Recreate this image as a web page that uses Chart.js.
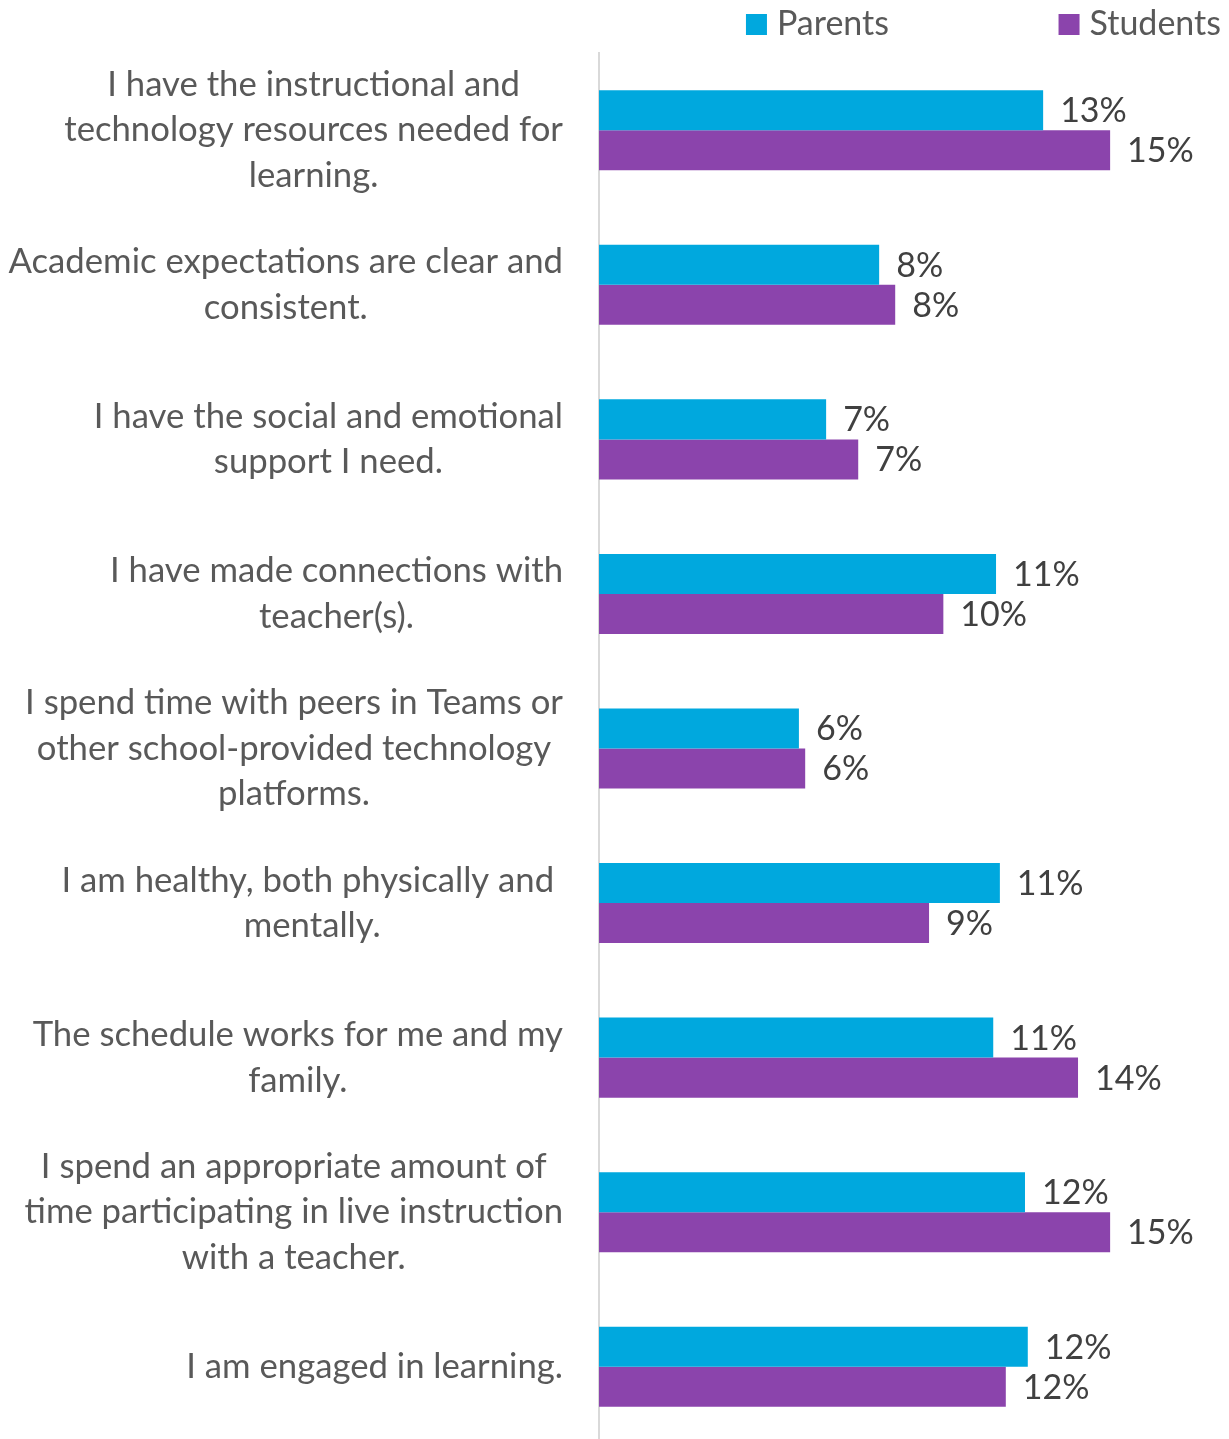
<!DOCTYPE html>
<html>
<head>
<meta charset="utf-8">
<script src="https://cdn.jsdelivr.net/npm/chart.js@4.4.1/dist/chart.umd.min.js"></script>
<style>
    html, body { margin: 0; padding: 0; background: #ffffff; }
    #wrap { width: 1229px; height: 1439px; overflow: hidden; }
    #chart { display: block; }
</style>
</head>
<body>
<div id="wrap"><canvas id="chart" width="1229" height="1444" style="width:1229px;height:1444px"></canvas></div>
<script>
"use strict";

/* category labels, one line per entry */
var categories = [
    ['I have the instructional and', 'technology resources needed for', 'learning.'],
    ['Academic expectations are clear and', 'consistent.'],
    ['I have the social and emotional', 'support I need.'],
    ['I have made connections with', 'teacher(s).'],
    ['I spend time with peers in Teams or', 'other school-provided technology', 'platforms.'],
    ['I am healthy, both physically and ', 'mentally.'],
    ['The schedule works for me and my', 'family.'],
    ['I spend an appropriate amount of', 'time participating in live instruction', 'with a teacher.'],
    ['I am engaged in learning.']
];

/* percent values */
var parents = [12.73, 8.03, 6.51, 11.38, 5.73, 11.49, 11.30, 12.21, 12.29];
var students = [14.65, 8.49, 7.43, 9.87, 5.91, 9.46, 13.73, 14.65, 11.66];

var seriesNames = ['Parents', 'Students'];
var seriesColors = ['#00a8de', '#8b44ac'];

var FONT = 'Lato, "Open Sans", sans-serif';
var FONT_SIZE = 34;
var CAT_FONT_SIZE = 34.7;

document.addEventListener("DOMContentLoaded", function () {
    var ctx = document.getElementById('chart').getContext('2d');

    /* labels, data labels and legend drawn on the canvas */
    var labelPlugin = {
        id: 'labelPlugin',
        afterDraw: function (chart) {
            var c = chart.ctx;
            var yScale = chart.scales.y;
            c.save();
            c.textBaseline = 'middle';

            /* category labels: block right aligned, lines centred */
            c.font = CAT_FONT_SIZE + 'px ' + FONT;
            c.fillStyle = '#595959';
            c.textAlign = 'center';
            categories.forEach(function (lines, i) {
                var w = 0;
                lines.forEach(function (l) { w = Math.max(w, c.measureText(l).width); });
                var cx = 563 - w / 2;
                var cy = yScale.getPixelForTick(i);
                var lh = 45.5;
                lines.forEach(function (l, k) {
                    c.fillText(l, cx, cy + (k - (lines.length - 1) / 2) * lh);
                });
            });

            /* value labels */
            c.font = FONT_SIZE + 'px ' + FONT;
            c.fillStyle = '#404040';
            c.textAlign = 'left';
            chart.data.datasets.forEach(function (ds, d) {
                var meta = chart.getDatasetMeta(d);
                meta.data.forEach(function (bar, i) {
                    c.fillText(Math.round(ds.data[i]) + '%', bar.x + 17, bar.y + 1);
                });
            });

            /* legend */
            var ends = [889, 1221];
            chart.data.datasets.forEach(function (ds, d) {
                var tw = c.measureText(ds.label).width;
                var tx = ends[d] - tw;
                c.fillStyle = ds.backgroundColor;
                c.fillRect(tx - 31, 14, 21, 21);
                c.fillStyle = '#595959';
                c.fillText(ds.label, tx, 24);
            });
            c.restore();
        }
    };

    var config = {
        type: 'bar',
        data: {
            labels: categories,
            datasets: [{
                label: seriesNames[0],
                data: parents,
                backgroundColor: seriesColors[0],
                borderWidth: 0,
                categoryPercentage: 0.518,
                barPercentage: 1.0
            }, {
                label: seriesNames[1],
                data: students,
                backgroundColor: seriesColors[1],
                borderWidth: 0,
                categoryPercentage: 0.518,
                barPercentage: 1.0
            }]
        },
        options: {
            indexAxis: 'y',
            responsive: false,
            animation: false,
            maintainAspectRatio: false,
            layout: {
                padding: { top: 53, right: 2, bottom: 0, left: 0 }
            },
            plugins: {
                legend: { display: false },
                tooltip: { enabled: false }
            },
            scales: {
                x: {
                    display: false,
                    min: 0,
                    max: 18
                },
                y: {
                    grid: { display: false, drawTicks: false },
                    border: { display: true, color: '#d9d9d9', width: 2 },
                    ticks: { display: false },
                    afterFit: function (scale) {
                        scale.width = 599;
                    }
                }
            }
        },
        plugins: [labelPlugin]
    };

    new Chart(ctx, config);
});
</script>
</body>
</html>
